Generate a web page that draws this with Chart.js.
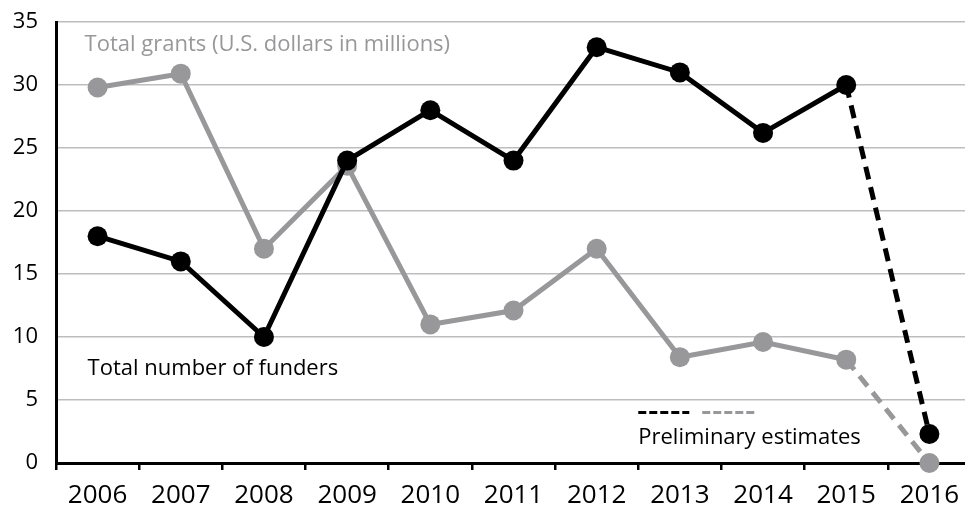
<!DOCTYPE html>
<html>
<head>
<meta charset="utf-8">
<script src="https://cdn.jsdelivr.net/npm/chart.js@4/dist/chart.umd.min.js"></script>
<style>
	html, body { margin: 0; padding: 0; background: #fff; overflow: hidden; }
	#wrap { width: 981px; height: 506px; }
</style>
</head>
<body>
<div id="wrap"><canvas id="chart"></canvas></div>
<script>
const years = ["2006", "2007", "2008", "2009", "2010", "2011", "2012", "2013", "2014", "2015", "2016"];
const funders = [18, 16, 10, 24, 28, 24, 33, 31, 26.2, 30, 2.3];
const grants = [29.8, 30.9, 17, 23.6, 11, 12.1, 17, 8.4, 9.6, 8.2, 0];
const yTicks = [0, 5, 10, 15, 20, 25, 30, 35];

const BLACK = "#000000";
const GRAY = "#98989a";
const FONT = "'Open Sans', sans-serif";

// last segment (2015 -> 2016) is a preliminary estimate
const lastSeg = years.length - 2;
const dashSeg = (ctx) => (ctx.p0DataIndex === lastSeg ? [13, 8] : undefined);

// text labels placed in data space
const notes = {
	id: "notes",
	afterDraw(chart) {
		const { ctx } = chart;
		const x = chart.scales.x;
		const y = chart.scales.y;
		ctx.save();
		ctx.textBaseline = "middle";
		ctx.textAlign = "left";
		ctx.font = "22px " + FONT;

		ctx.fillStyle = GRAY;
		ctx.fillText("Total grants (U.S. dollars in millions)", x.getPixelForValue(0) - 13, y.getPixelForValue(33.2));

		ctx.fillStyle = BLACK;
		ctx.fillText("Total number of funders", x.getPixelForValue(0) - 10, y.getPixelForValue(7.5));

		const px = x.getPixelForValue(6.5);
		ctx.fillText("Preliminary estimates", px, y.getPixelForValue(2.0));

		const ly = y.getPixelForValue(4);
		ctx.lineWidth = 3;
		ctx.setLineDash([8, 3]);
		ctx.strokeStyle = BLACK;
		ctx.beginPath();
		ctx.moveTo(px, ly);
		ctx.lineTo(px + 51, ly);
		ctx.stroke();
		ctx.strokeStyle = GRAY;
		ctx.beginPath();
		ctx.moveTo(px + 64, ly);
		ctx.lineTo(px + 116, ly);
		ctx.stroke();
		ctx.restore();
	},
};

new Chart(document.getElementById("chart"), {
	type: "line",
	data: {
		labels: years,
		datasets: [
			{
				label: "Total number of funders",
				data: funders,
				borderColor: BLACK,
				backgroundColor: BLACK,
				borderWidth: 5,
				pointRadius: 10,
				pointBorderWidth: 0,
				pointBackgroundColor: BLACK,
				segment: { borderDash: dashSeg },
			},
			{
				label: "Total grants (U.S. dollars in millions)",
				data: grants,
				borderColor: GRAY,
				backgroundColor: GRAY,
				borderWidth: 5,
				pointRadius: 10,
				pointBorderWidth: 0,
				pointBackgroundColor: GRAY,
				segment: { borderDash: dashSeg },
			},
		],
	},
	options: {
		responsive: true,
		maintainAspectRatio: false,
		animation: false,
		clip: false,
		layout: { padding: { top: 22, right: 0, left: 0, bottom: 0 } },
		plugins: {
			legend: { display: false },
			tooltip: { enabled: false },
		},
		scales: {
			x: {
				offset: true,
				grid: {
					display: true,
					offset: true,
					drawOnChartArea: false,
					drawTicks: true,
					tickLength: 7,
					color: BLACK,
					lineWidth: 2.5,
				},
				border: { display: true, color: BLACK, width: 3 },
				ticks: {
					color: BLACK,
					font: { family: FONT, size: 26 },
					padding: 10,
					maxRotation: 0,
				},
				afterFit(scale) {
					scale.height = 43;
					scale.paddingLeft = 0;
					scale.paddingRight = 0;
				},
			},
			y: {
				min: 0,
				max: 35,
				afterBuildTicks(scale) {
					scale.ticks = yTicks.map((v) => ({ value: v }));
				},
				grid: {
					color: "#bdbdbd",
					lineWidth: 1.5,
					drawTicks: false,
				},
				border: { display: true, color: BLACK, width: 3 },
				ticks: {
					color: BLACK,
					font: { family: FONT, size: 22 },
					padding: 18,
				},
				afterFit(scale) {
					scale.width = 56;
					scale.paddingTop = 0;
				},
			},
		},
	},
	plugins: [notes],
});
</script>
</body>
</html>
